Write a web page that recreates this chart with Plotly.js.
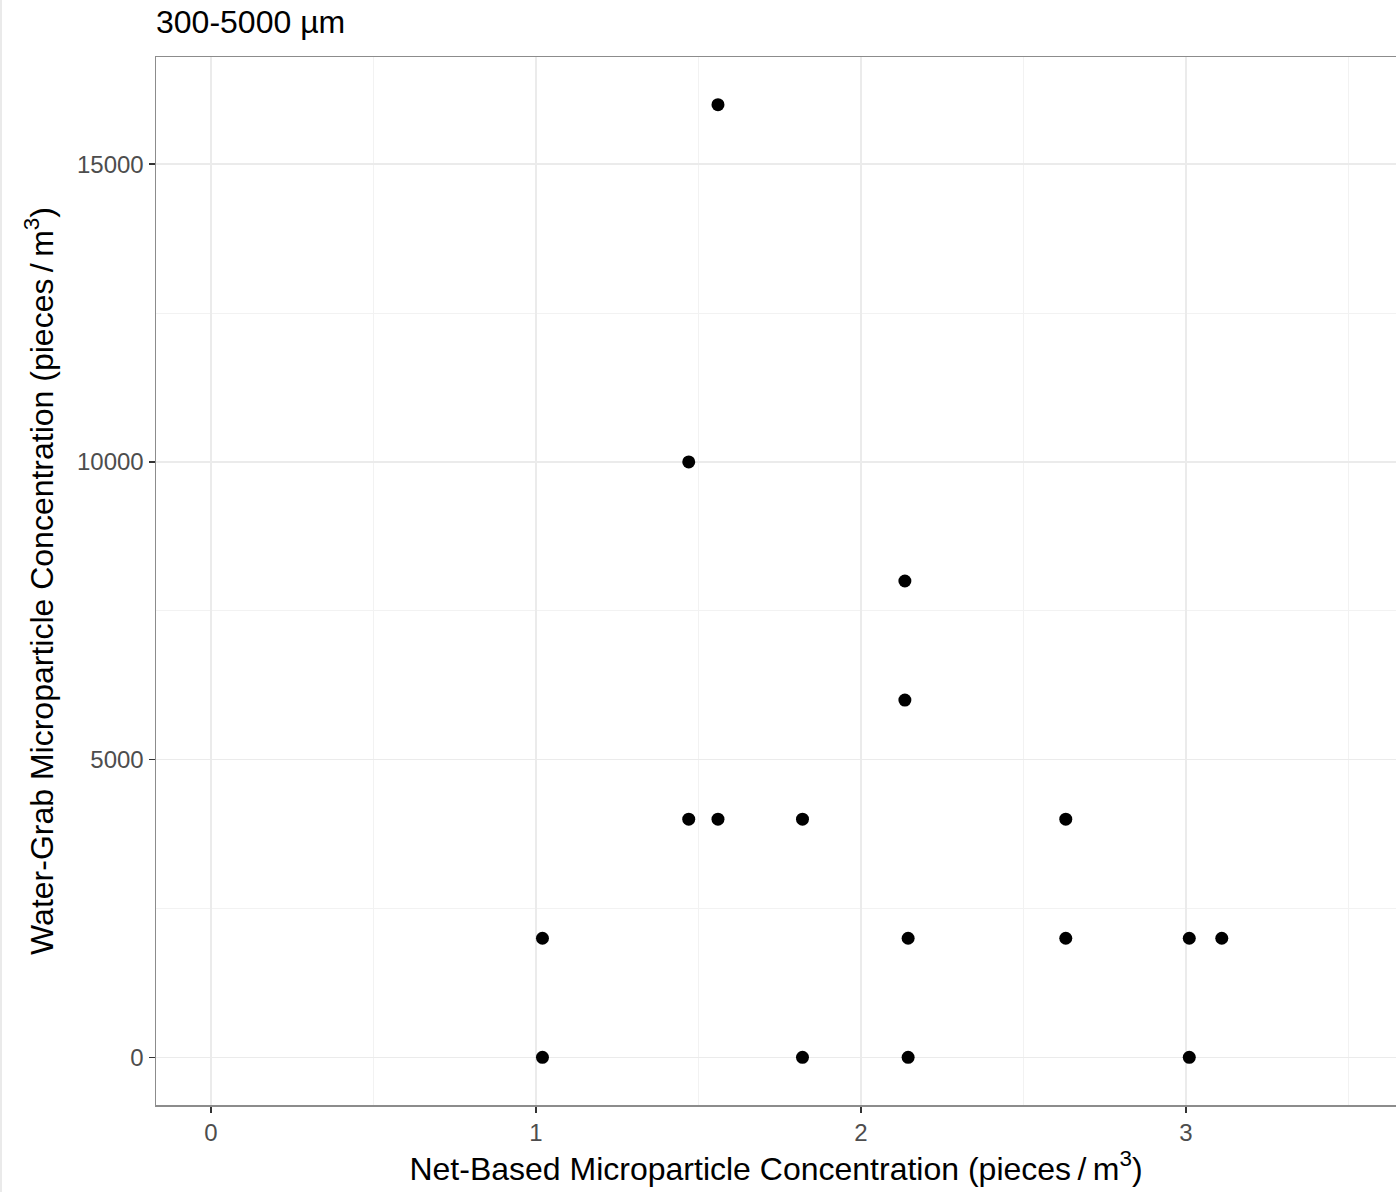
<!DOCTYPE html>
<html>
<head>
<meta charset="utf-8">
<script src="https://cdn.plot.ly/plotly-3.0.1.min.js"></script>
<style>html,body{margin:0;padding:0;background:#fff;}#chart{width:1396px;height:1192px;}</style>
</head>
<body>
<div id="chart"></div>
<script>
const netConc = [1.56, 1.47, 2.135, 2.135, 1.47, 1.56, 1.82, 2.63, 1.02, 2.145, 2.63, 3.01, 3.11, 1.02, 1.82, 2.145, 3.01];
const grabConc = [16000, 10000, 8000, 6000, 4000, 4000, 4000, 4000, 2000, 2000, 2000, 2000, 2000, 0, 0, 0, 0];
const xTicks = [0, 1, 2, 3];
const yTicks = [0, 5000, 10000, 15000];
const titleText = '300-5000 µm';
const xTitle = 'Net-Based Microparticle Concentration (pieces\u2009/\u2009m<sup>3</sup>)';
const yTitle = 'Water-Grab Microparticle Concentration (pieces\u2009/\u2009m<sup>3</sup>)';

const font = 'Liberation Sans, Arial, sans-serif';
const trace = {
  x: netConc, y: grabConc, type: 'scatter', mode: 'markers',
  marker: {color: '#000000', size: 13, line: {width: 0}},
  hoverinfo: 'x+y', showlegend: false
};
const layout = {
  width: 1396, height: 1192,
  margin: {l: 156, r: 0, t: 57, b: 87},
  paper_bgcolor: '#ffffff', plot_bgcolor: '#ffffff',
  font: {family: font, color: '#000'},
  title: {text: titleText, x: 0, xref: 'paper', xanchor: 'left', y: 1 - 22/1192, yref: 'container', yanchor: 'middle',
          font: {family: font, size: 32, color: '#000'}},
  xaxis: {
    range: [-0.169, 3.646], tickvals: xTicks, ticktext: xTicks.map(String),
    showgrid: true, gridcolor: '#ebebeb', gridwidth: 1.5,
    minor: {dtick: 0.5, tick0: 0, showgrid: true, gridcolor: '#f2f2f2', gridwidth: 1},
    zeroline: false, showline: true, linecolor: '#8c8c8c', linewidth: 1.5, mirror: true,
    ticks: 'outside', ticklen: 6, tickwidth: 1.5, tickcolor: '#333',
    tickfont: {family: font, size: 24, color: '#4d4d4d'},
    title: {text: xTitle, font: {family: font, size: 32, color: '#000'}, standoff: 10}
  },
  yaxis: {
    range: [-800, 16800], tickvals: yTicks, ticktext: yTicks.map(String),
    showgrid: true, gridcolor: '#ebebeb', gridwidth: 1.5,
    minor: {dtick: 2500, tick0: 0, showgrid: true, gridcolor: '#f2f2f2', gridwidth: 1},
    zeroline: false, showline: true, linecolor: '#8c8c8c', linewidth: 1.5, mirror: false,
    ticks: 'outside', ticklen: 6, tickwidth: 1.5, tickcolor: '#333',
    tickfont: {family: font, size: 24, color: '#4d4d4d'},
    title: {text: yTitle, font: {family: font, size: 32, color: '#000'}, standoff: 14}
  },
  shapes: [{type: 'line', xref: 'paper', yref: 'paper', x0: -155/1240, x1: -155/1240, y0: -87/1048, y1: 1 + 57/1048,
            line: {color: '#e3e3e3', width: 1.5}}]
};
Plotly.newPlot('chart', [trace], layout, {displayModeBar: false, staticPlot: true});
</script>
</body>
</html>
